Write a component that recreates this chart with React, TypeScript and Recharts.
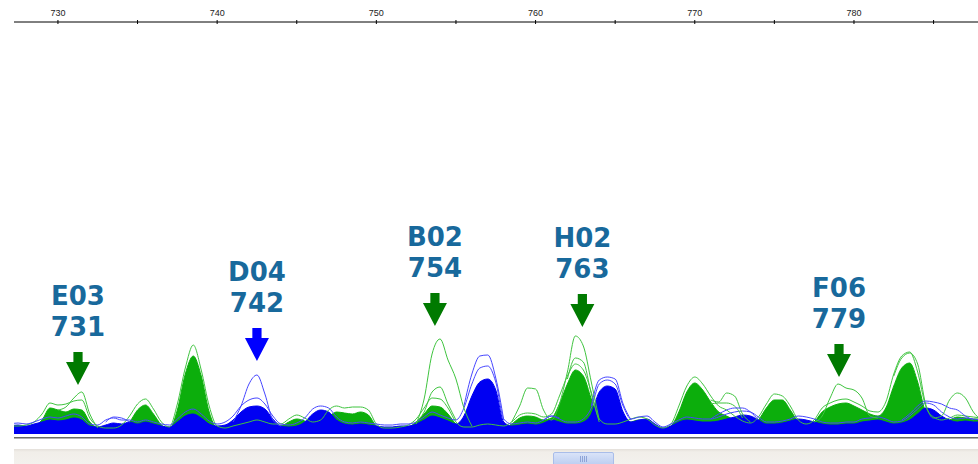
import React from "react";
import { ComposedChart, Area, Line, XAxis, YAxis, ReferenceDot } from "recharts";

// fragment size positions (bp)
const bp = [
  727, 727.5, 728, 728.5, 729, 729.5, 730, 730.5, 731, 731.5,
  732, 732.5, 733, 733.5, 734, 734.5, 735, 735.5, 736, 736.5,
  737, 737.5, 738, 738.5, 739, 739.5, 740, 740.5, 741, 741.5,
  742, 742.5, 743, 743.5, 744, 744.5, 745, 745.5, 746, 746.5,
  747, 747.5, 748, 748.5, 749, 749.5, 750, 750.5, 751, 751.5,
  752, 752.5, 753, 753.5, 754, 754.5, 755, 755.5, 756, 756.5,
  757, 757.5, 758, 758.5, 759, 759.5, 760, 760.5, 761, 761.5,
  762, 762.5, 763, 763.5, 764, 764.5, 765, 765.5, 766, 766.5,
  767, 767.5, 768, 768.5, 769, 769.5, 770, 770.5, 771, 771.5,
  772, 772.5, 773, 773.5, 774, 774.5, 775, 775.5, 776, 776.5,
  777, 777.5, 778, 778.5, 779, 779.5, 780, 780.5, 781, 781.5,
  782, 782.5, 783, 783.5, 784, 784.5, 785, 785.5, 786, 786.5,
  787, 787.5, 788,
];

// dense green trace bundle (signal)
const greenBulk = [
  6, 6, 7, 8, 14, 26, 24, 22, 25, 24,
  12, 6, 5, 5, 6, 12, 24, 29, 20, 9,
  5, 24, 60, 78, 58, 22, 6, 5, 6, 8,
  10, 12, 10, 8, 8, 12, 15, 13, 9, 10,
  17, 22, 21, 20, 22, 19, 8, 5, 5, 6,
  7, 12, 20, 28, 27, 20, 10, 6, 6, 8,
  8, 7, 6, 10, 16, 18, 17, 14, 16, 30,
  50, 64, 58, 35, 12, 8, 8, 10, 12, 14,
  12, 7, 5, 8, 22, 42, 51, 44, 32, 22,
  18, 14, 10, 9, 14, 26, 34, 34, 24, 12,
  8, 12, 22, 27, 30, 31, 28, 24, 20, 18,
  26, 48, 66, 71, 52, 22, 14, 12, 14, 17,
  16, 15, 15,
];

// upper edge of green bundle
const greenTop = [
  8, 8, 9, 12, 20, 31, 29, 30, 33, 34,
  16, 8, 6, 6, 9, 18, 30, 35, 25, 12,
  7, 30, 66, 89, 64, 28, 8, 6, 8, 10,
  12, 14, 12, 10, 10, 15, 19, 16, 12, 14,
  24, 28, 26, 27, 27, 24, 10, 6, 6, 7,
  9, 15, 26, 36, 35, 26, 12, 7, 7, 9,
  10, 9, 8, 12, 19, 21, 20, 17, 20, 38,
  58, 70, 64, 42, 15, 10, 10, 12, 15, 17,
  15, 9, 6, 10, 28, 48, 57, 50, 38, 28,
  24, 18, 13, 11, 17, 30, 40, 38, 28, 14,
  10, 14, 26, 31, 34, 35, 32, 28, 23, 22,
  32, 60, 78, 82, 62, 28, 17, 14, 16, 19,
  18, 17, 16,
];

// dense blue trace bundle
const blueBulk = [
  8, 9, 8, 10, 12, 14, 13, 14, 16, 14,
  8, 7, 9, 11, 10, 12, 10, 12, 10, 8,
  7, 12, 18, 20, 16, 10, 8, 9, 14, 22,
  27, 28, 25, 15, 8, 7, 8, 12, 20, 24,
  22, 14, 10, 9, 10, 9, 8, 7, 7, 8,
  8, 10, 14, 18, 16, 13, 10, 18, 38, 52,
  55, 44, 12, 8, 9, 10, 9, 11, 14, 12,
  10, 10, 12, 20, 42, 48, 45, 22, 12, 14,
  15, 10, 6, 8, 12, 14, 13, 12, 12, 13,
  15, 17, 19, 18, 14, 10, 10, 11, 13, 15,
  14, 12, 10, 9, 9, 10, 10, 12, 13, 14,
  12, 10, 11, 14, 20, 26, 24, 18, 14, 12,
  13, 12, 12,
];

// upper edge of blue bundle
const blueTop = [
  10, 11, 10, 12, 15, 17, 16, 18, 20, 17,
  10, 9, 14, 16, 14, 14, 12, 14, 12, 10,
  9, 15, 22, 25, 20, 13, 10, 12, 18, 28,
  34, 36, 30, 18, 10, 9, 11, 16, 25, 28,
  26, 17, 12, 11, 12, 11, 10, 9, 9, 10,
  10, 12, 17, 22, 19, 16, 14, 26, 50, 66,
  68, 52, 15, 10, 11, 12, 11, 14, 18, 15,
  12, 12, 15, 26, 50, 54, 50, 28, 15, 17,
  18, 12, 7, 10, 14, 17, 16, 15, 15, 17,
  20, 22, 23, 22, 17, 12, 12, 13, 15, 18,
  17, 15, 12, 11, 11, 12, 12, 15, 16, 17,
  15, 12, 13, 18, 25, 31, 29, 22, 17, 15,
  16, 15, 14,
];

const n = null;
// single outlying green traces
const greenOut = [
  n, n, n, n, n, n, 24, 27, 36, 42,
  20, 6, n, n, n, n, n, n, n, n,
  n, n, n, n, n, n, n, n, n, n,
  n, n, n, n, n, n, n, n, n, n,
  n, n, n, n, n, n, n, n, n, n,
  n, 10, 35, 80, 95, 74, 55, 26, 8, n,
  n, n, n, 12, 28, 46, 45, 24, 14, 30,
  62, 98, 88, 52, 14, n, n, n, n, n,
  n, n, n, n, n, n, n, n, 34, 32,
  41, 38, 20, 12, n, n, n, n, n, n,
  n, 12, 18, 36, 50, 46, 44, 36, 18, 16,
  n, 58, 76, 81, 70, 30, 16, 18, 34, 41,
  36, 22, 14,
];

const greenOut2 = [
  n, n, n, n, n, n, n, n, n, n,
  n, n, n, n, n, n, n, n, n, n,
  n, n, n, n, n, n, n, n, n, n,
  n, n, n, n, n, n, n, n, n, n,
  n, n, n, n, n, n, n, n, n, n,
  n, 12, 22, 42, 47, 30, 14, n, n, n,
  n, n, n, n, n, n, n, n, n, n,
  55, 76, 72, 40, 12, n, n, n, n, n,
  n, n, n, n, n, n, n, n, 30, 31,
  31, 28, 16, n, n, n, n, n, n, n,
  n, n, n, n, n, n, n, n, n, n,
  n, n, n, n, n, n, n, n, n, n,
  n, n, n,
];

// single outlying blue traces
const blueOut = [
  n, n, n, n, n, n, n, n, n, n,
  n, n, 12, 17, 16, 12, n, n, n, n,
  n, n, n, n, n, n, n, n, 12, 28,
  50, 59, 40, 14, 8, n, n, n, n, n,
  n, n, n, n, n, n, n, n, n, n,
  n, n, n, n, n, n, n, 28, 60, 78,
  79, 56, 14, n, n, n, n, 14, 18, 16,
  n, n, n, 28, 54, 57, 55, 30, 14, n,
  n, n, n, n, n, n, n, n, 15, 20,
  24, 26, 26, 22, 14, n, n, n, n, n,
  n, n, n, n, n, n, n, n, n, n,
  n, n, 14, 20, 28, 33, 32, 30, 26, 24,
  18, 14, n,
];

// peak annotations
const peakNames = ["E03", "D04", "B02", "H02", "F06"];
const peakSizes = ["731", "742", "754", "763", "779"];
const peakBp = [731.26, 742.5, 753.68, 762.94, 779.06];
const peakArrowTip = [49, 73, 108, 107, 57];
const peakDye = ["green", "blue", "green", "green", "green"];

const axisTicks = [730, 735, 740, 745, 750, 755, 760, 765, 770, 775, 780, 785];

const data = bp.map((b, i) => ({
  bp: b,
  greenBulk: greenBulk[i],
  greenTop: greenTop[i],
  blueBulk: blueBulk[i],
  blueTop: blueTop[i],
  greenOut: greenOut[i],
  greenOut2: greenOut2[i],
  blueOut: blueOut[i],
}));

const GREEN_FILL = "#0CAE0C";
const GREEN_LINE = "#3FC43F";
const BLUE_FILL = "#0000F2";
const BLUE_LINE = "#4646FF";
const ARROW_GREEN = "#007A00";
const ARROW_BLUE = "#0000FF";
const LABEL_COLOR = "#18699C";

const RulerTick = (props: any) => {
  const { x, y, payload } = props;
  const v = payload.value;
  const major = v % 10 === 0;
  return (
    <g>
      <line x1={x} x2={x} y1={y - 2} y2={y + 2} stroke="#000" strokeWidth={1} />
      {major && (
        <text
          x={x}
          y={y - 6}
          textAnchor="middle"
          fontSize={9}
          fontFamily="'Liberation Sans', Arial, sans-serif"
          fill="#222"
        >
          {v}
        </text>
      )}
    </g>
  );
};

const makeArrow = (name: string, size: string, dye: string) => (props: any) => {
  const { cx, cy } = props;
  const color = dye === "blue" ? ARROW_BLUE : ARROW_GREEN;
  const pts = [
    [cx - 4.6, cy - 33],
    [cx + 4.6, cy - 33],
    [cx + 4.6, cy - 23],
    [cx + 12, cy - 23],
    [cx, cy],
    [cx - 12, cy - 23],
    [cx - 4.6, cy - 23],
  ]
    .map((p) => p.join(","))
    .join(" ");
  return (
    <g>
      <polygon points={pts} fill={color} />
      <text
        x={cx}
        y={cy - 80}
        textAnchor="middle"
        fontSize={26}
        fontWeight="bold"
        fontFamily="'DejaVu Sans', Verdana, sans-serif"
        fill={LABEL_COLOR}
      >
        {name}
      </text>
      <text
        x={cx}
        y={cy - 49}
        textAnchor="middle"
        fontSize={26}
        fontWeight="bold"
        fontFamily="'DejaVu Sans', Verdana, sans-serif"
        fill={LABEL_COLOR}
      >
        {size}
      </text>
    </g>
  );
};

export default function App() {
  return (
    <div
      style={{
        position: "absolute",
        left: 0,
        top: 0,
        width: 978,
        height: 464,
        background: "#fff",
        overflow: "hidden",
      }}
    >
      <ComposedChart
        width={978}
        height={464}
        data={data}
        margin={{ top: 0, right: 0, bottom: 30, left: 14 }}
      >
        <XAxis
          dataKey="bp"
          type="number"
          orientation="top"
          height={22}
          domain={[727.24, 787.79]}
          allowDataOverflow
          ticks={axisTicks}
          tick={<RulerTick />}
          tickLine={false}
          tickSize={0}
          tickMargin={0}
          axisLine={{ stroke: "#000", strokeWidth: 1 }}
          interval={0}
        />
        <YAxis hide domain={[0, 412]} allowDataOverflow />
        <Area
          type="monotone"
          dataKey="greenBulk"
          stroke={GREEN_FILL}
          strokeWidth={1}
          fill={GREEN_FILL}
          fillOpacity={1}
          isAnimationActive={false}
          dot={false}
          activeDot={false}
        />
        <Line
          type="monotone"
          dataKey="greenTop"
          stroke={GREEN_LINE}
          strokeWidth={1}
          dot={false}
          activeDot={false}
          isAnimationActive={false}
        />
        <Area
          type="monotone"
          dataKey="blueBulk"
          stroke={BLUE_FILL}
          strokeWidth={1}
          fill={BLUE_FILL}
          fillOpacity={1}
          isAnimationActive={false}
          dot={false}
          activeDot={false}
        />
        <Line
          type="monotone"
          dataKey="blueTop"
          stroke={BLUE_LINE}
          strokeWidth={1}
          dot={false}
          activeDot={false}
          isAnimationActive={false}
        />
        <Line
          type="monotone"
          dataKey="greenOut2"
          stroke={GREEN_LINE}
          strokeWidth={1}
          dot={false}
          activeDot={false}
          connectNulls={false}
          isAnimationActive={false}
        />
        <Line
          type="monotone"
          dataKey="greenOut"
          stroke={GREEN_LINE}
          strokeWidth={1}
          dot={false}
          activeDot={false}
          connectNulls={false}
          isAnimationActive={false}
        />
        <Line
          type="monotone"
          dataKey="blueOut"
          stroke={BLUE_LINE}
          strokeWidth={1}
          dot={false}
          activeDot={false}
          connectNulls={false}
          isAnimationActive={false}
        />
        {peakNames.map((name, i) => (
          <ReferenceDot
            key={name}
            x={peakBp[i]}
            y={peakArrowTip[i]}
            r={0}
            ifOverflow="visible"
            shape={makeArrow(name, peakSizes[i], peakDye[i])}
          />
        ))}
      </ComposedChart>
      {/* baseline rule under the traces */}
      <div style={{ position: "absolute", left: 14, top: 437, width: 964, height: 1, background: "#6a6a6a" }} />
      <div style={{ position: "absolute", left: 14, top: 438, width: 964, height: 1, background: "#b0b0b0" }} />
      {/* horizontal scrollbar */}
      <div
        style={{
          position: "absolute",
          left: 14,
          top: 449,
          width: 964,
          height: 15,
          background: "linear-gradient(#e4e0da, #f1eee9 3px, #f3f1ed)",
        }}
      />
      <div
        style={{
          position: "absolute",
          left: 553,
          top: 452,
          width: 61,
          height: 14,
          boxSizing: "border-box",
          border: "1px solid #a9bde9",
          borderRadius: 2,
          background: "linear-gradient(#d9e3f8, #bccdf1)",
        }}
      />
      {[580, 582, 584, 586].map((gx) => (
        <div
          key={gx}
          style={{ position: "absolute", left: gx, top: 456, width: 1, height: 6, background: "#8ea4d8" }}
        />
      ))}
    </div>
  );
}
